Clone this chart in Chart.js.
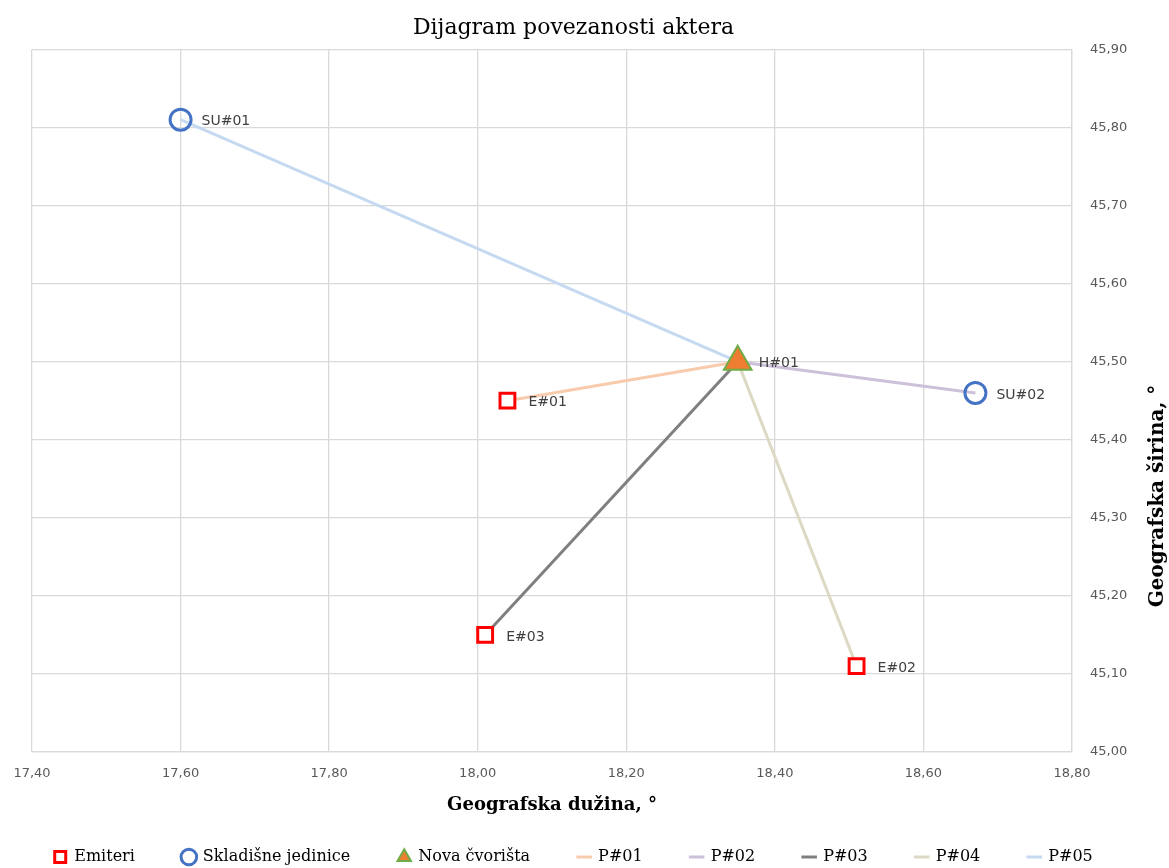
<!DOCTYPE html>
<html lang="hr">
<head>
<meta charset="UTF-8">
<title>Dijagram povezanosti aktera</title>
<script src="https://cdn.jsdelivr.net/npm/chart.js@4.4.1/dist/chart.umd.min.js"></script>
<style>
  body { margin: 0; background: #fff; }
  .wrap { width: 1169px; height: 868px; }
</style>
</head>
<body>
<div class="wrap"><canvas id="chart"></canvas></div>
<script>
// cvorovi (geografska duzina / sirina)
const emiterNames = ['E#01', 'E#02', 'E#03'];
const emiterLon = [18.04, 18.51, 18.01];
const emiterLat = [45.45, 45.11, 45.15];

const storageNames = ['SU#01', 'SU#02'];
const storageLon = [17.60, 18.67];
const storageLat = [45.81, 45.46];

const hubNames = ['H#01'];
const hubLon = [18.35];
const hubLat = [45.50];

// putevi
const pathNames = ['P#01', 'P#02', 'P#03', 'P#04', 'P#05'];
const pathFrom = ['E#01', 'H#01', 'E#03', 'E#02', 'SU#01'];
const pathTo = ['H#01', 'SU#02', 'H#01', 'H#01', 'H#01'];
const pathColors = ['#F8CBAD', '#CCC0DA', '#7F7F7F', '#DDD9C4', '#C5D9F1'];

const nodes = {};
function addNodes(names, lon, lat) {
    names.forEach(function (n, i) { nodes[n] = {x: lon[i], y: lat[i]}; });
}
addNodes(emiterNames, emiterLon, emiterLat);
addNodes(storageNames, storageLon, storageLat);
addNodes(hubNames, hubLon, hubLat);

function pts(lon, lat) {
    return lon.map(function (x, i) { return {x: x, y: lat[i]}; });
}

const fmt = function (v) { return v.toFixed(2).replace('.', ','); };
const serif = '"DejaVu Serif", "Liberation Serif", serif';
const sans = '"DejaVu Sans", Verdana, sans-serif';

let datasets = [
    {
        label: 'Emiteri', data: pts(emiterLon, emiterLat), names: emiterNames,
        pointStyle: 'rect', pointRadius: 10.5, pointHoverRadius: 10.5,
        borderColor: '#FF0000', backgroundColor: '#FFFFFF', pointBorderWidth: 3, borderWidth: 3
    },
    {
        label: 'Skladišne jedinice', data: pts(storageLon, storageLat), names: storageNames,
        pointStyle: 'circle', pointRadius: 10.5, pointHoverRadius: 10.5,
        borderColor: '#4472C4', backgroundColor: 'rgba(255,255,255,0)', pointBorderWidth: 3, borderWidth: 3
    },
    {
        label: 'Nova čvorišta', data: pts(hubLon, hubLat), names: hubNames,
        pointStyle: 'triangle', pointRadius: 16, pointHoverRadius: 16,
        borderColor: '#70AD47', backgroundColor: '#ED7D31', pointBorderWidth: 2, borderWidth: 2
    }
];

for (let i = 0; i < pathNames.length; i++) {
    datasets.push({
        label: pathNames[i],
        data: [nodes[pathFrom[i]], nodes[pathTo[i]]],
        showLine: true,
        borderColor: pathColors[i],
        borderWidth: 3,
        pointRadius: 0,
        pointHoverRadius: 0,
        pointStyle: 'line',
        pointBorderColor: pathColors[i],
        pointBackgroundColor: pathColors[i],
        pointBorderWidth: 3
    });
}

// oznake uz tocke
const pointLabels = {
    id: 'pointLabels',
    afterDatasetsDraw: function (chart) {
        const ctx = chart.ctx;
        ctx.save();
        ctx.font = '14px ' + sans;
        ctx.fillStyle = '#404040';
        ctx.textBaseline = 'middle';
        chart.data.datasets.forEach(function (ds, di) {
            if (!ds.names) return;
            const meta = chart.getDatasetMeta(di);
            meta.data.forEach(function (el, j) {
                ctx.fillText(ds.names[j], el.x + 21, el.y + 2);
            });
        });
        ctx.restore();
    }
};

// naslov desne osi (cita se odozdo prema gore)
const rightTitle = {
    id: 'rightTitle',
    afterDraw: function (chart) {
        const ctx = chart.ctx;
        const area = chart.chartArea;
        ctx.save();
        ctx.translate(chart.width - 11, area.bottom - 256);
        ctx.rotate(-Math.PI / 2);
        ctx.font = 'bold 20px ' + serif;
        ctx.fillStyle = '#000';
        ctx.textAlign = 'center';
        ctx.textBaseline = 'middle';
        ctx.fillText('Geografska širina, °', 0, 0);
        ctx.restore();
    }
};

new Chart('chart', {
    type: 'scatter',
    data: {datasets: datasets},
    options: {
        responsive: true,
        maintainAspectRatio: false,
        animation: false,
        layout: {padding: {left: 0, right: 22, top: 4, bottom: -7}},
        plugins: {
            title: {
                display: true,
                text: 'Dijagram povezanosti aktera',
                color: '#000',
                font: {family: serif, size: 22, weight: 'normal'},
                padding: {top: 11, bottom: 8}
            },
            legend: {
                position: 'bottom',
                labels: {
                    usePointStyle: true,
                    boxWidth: 12,
                    boxHeight: 11,
                    color: '#000',
                    padding: 48,
                    font: {family: serif, size: 16}
                }
            },
            tooltip: {enabled: false}
        },
        scales: {
            x: {
                type: 'linear',
                min: 17.4, max: 18.8,
                afterFit: function (scale) { scale.height = 49; scale.paddingLeft = 32; },
                ticks: {stepSize: 0.2, callback: fmt, color: '#595959', padding: 14,
                    font: {family: sans, size: 13}},
                grid: {color: '#D9D9D9', lineWidth: 1.3, drawTicks: false},
                border: {color: '#D9D9D9', width: 1.3},
                title: {
                    display: true, text: 'Geografska dužina, °', color: '#000',
                    font: {family: serif, size: 18, weight: 'bold'},
                    padding: {top: 0, bottom: -14.8}
                }
            },
            y: {
                type: 'linear',
                position: 'right',
                min: 45.0, max: 45.9,
                afterFit: function (scale) { scale.width = 75; },
                ticks: {stepSize: 0.1, callback: fmt, color: '#595959', padding: 18,
                    font: {family: sans, size: 13}},
                grid: {color: '#D9D9D9', lineWidth: 1.3, drawTicks: false},
                border: {color: '#D9D9D9', width: 1.3}
            }
        }
    },
    plugins: [pointLabels, rightTitle]
});
</script>
</body>
</html>
